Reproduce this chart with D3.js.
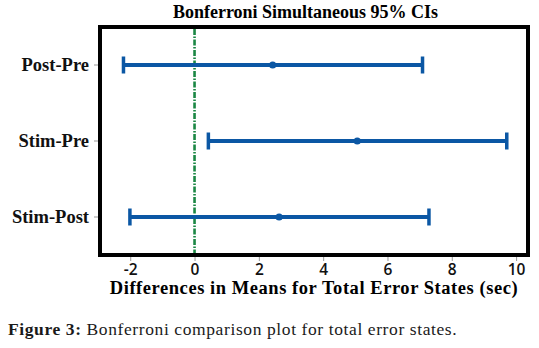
<!DOCTYPE html>
<html>
<head>
<meta charset="utf-8">
<script src="https://cdn.jsdelivr.net/npm/d3@7"></script>
<style>
  body { margin: 0; background: #fff; }
  svg { display: block; }
</style>
</head>
<body>
<svg id="chart" width="539" height="348"></svg>
<script>
// comparisons and their Bonferroni intervals
const comparisons = ["Post-Pre", "Stim-Pre", "Stim-Post"];
const lowers = [-2.21, 0.43, -2.01];
const means = [2.43, 5.06, 2.63];
const uppers = [7.09, 9.71, 7.29];
const xTicks = [-2, 0, 2, 4, 6, 8, 10];

const svg = d3.select("#chart");
const box = { left: 100, top: 27, right: 528, bottom: 255 };

const serif = "'Liberation Serif', 'Times New Roman', serif";
const blue = "#0b57a4";

const xScale = d3.scaleLinear()
    .domain([-2.94, 10.37])
    .range([box.left, box.right]);

const yScale = d3.scaleBand()
    .domain(comparisons)
    .range([box.top, box.bottom]);

const rows = comparisons.map((c, i) => ({
    name: c, lo: lowers[i], mean: means[i], hi: uppers[i]
}));

// x axis
const xAxis = svg.append("g")
    .attr("transform", `translate(0, ${box.bottom + 2})`)
    .call(d3.axisBottom(xScale).tickValues(xTicks).tickSize(4).tickFormat(d3.format("d")));
xAxis.select(".domain").remove();
xAxis.selectAll("line").attr("stroke", "#999");
xAxis.selectAll("text")
    .attr("fill", "#111")
    .style("font-family", "'Open Sans', sans-serif")
    .style("font-weight", "600")
    .style("font-size", "15.5px")
    .text(d => d < 0 ? "-" + Math.abs(d) : d);

// y axis
const yAxis = svg.append("g")
    .attr("transform", `translate(${box.left - 2}, 0)`)
    .call(d3.axisLeft(yScale).tickSize(4).tickPadding(5));
yAxis.select(".domain").remove();
yAxis.selectAll("line").attr("stroke", "#999");
yAxis.selectAll("text")
    .attr("fill", "#111")
    .style("font-family", serif)
    .style("font-weight", "bold")
    .style("font-size", "18.5px");

// zero reference line
svg.append("line")
    .attr("x1", xScale(0)).attr("x2", xScale(0))
    .attr("y1", box.top + 2).attr("y2", box.bottom - 2)
    .attr("stroke", "#1b8744")
    .attr("stroke-width", 2.6)
    .attr("stroke-dasharray", "6,1.5,1.5,1.5");

// intervals
const bars = svg.append("g").selectAll("g")
    .data(rows)
    .enter()
    .append("g")
    .attr("transform", d => `translate(0, ${yScale(d.name) + yScale.bandwidth() / 2})`);

bars.append("line")
    .attr("x1", d => xScale(d.lo))
    .attr("x2", d => xScale(d.hi))
    .attr("stroke", blue)
    .attr("stroke-width", 4);

bars.selectAll(".cap")
    .data(d => [d.lo, d.hi])
    .enter()
    .append("line")
    .attr("class", "cap")
    .attr("x1", d => xScale(d)).attr("x2", d => xScale(d))
    .attr("y1", -8.5).attr("y2", 8.5)
    .attr("stroke", blue)
    .attr("stroke-width", 3.5);

bars.append("circle")
    .attr("cx", d => xScale(d.mean))
    .attr("r", 3.6)
    .attr("fill", blue);

// frame
svg.append("rect")
    .attr("x", box.left).attr("y", box.top)
    .attr("width", box.right - box.left)
    .attr("height", box.bottom - box.top)
    .attr("fill", "none")
    .attr("stroke", "#000")
    .attr("stroke-width", 4);

// titles
svg.append("text")
    .attr("x", 305.5).attr("y", 18)
    .attr("text-anchor", "middle")
    .style("font-family", serif)
    .style("font-weight", "bold")
    .style("font-size", "18px")
    .text("Bonferroni Simultaneous 95% CIs");

svg.append("text")
    .attr("x", 314).attr("y", 294)
    .attr("text-anchor", "middle")
    .style("font-family", serif)
    .style("font-weight", "bold")
    .style("font-size", "18.5px")
    .style("letter-spacing", "0.55px")
    .text("Differences in Means for Total Error States (sec)");

const caption = svg.append("text")
    .attr("x", 8).attr("y", 335)
    .attr("fill", "#1a1a1a")
    .style("font-family", serif)
    .style("font-size", "17.5px")
    .style("letter-spacing", "0.6px");
caption.append("tspan").style("font-weight", "bold").text("Figure 3:");
caption.append("tspan").text(" Bonferroni comparison plot for total error states.");
</script>
</body>
</html>
